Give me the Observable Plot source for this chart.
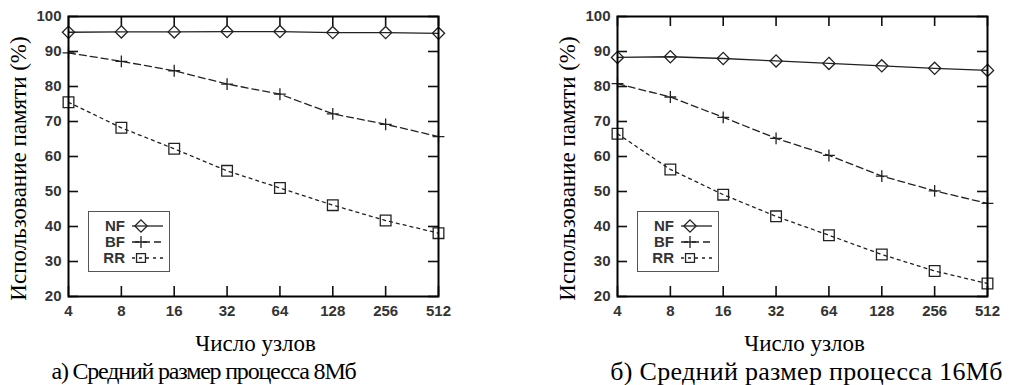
<!DOCTYPE html>
<html><head><meta charset="utf-8">
<script src="https://cdn.jsdelivr.net/npm/d3@7"></script>
<script src="https://cdn.jsdelivr.net/npm/@observablehq/plot@0.6"></script>
<style>
body{margin:0;background:#fff;}
#wrap{position:relative;width:1010px;height:385px;overflow:hidden;background:#fff;}
.panel{position:absolute;top:0;}
.panel svg{overflow:visible;}
.legend{position:absolute;}
</style></head><body><div id="wrap"></div>
<script>
// ---- data ----
const nodes = [4, 8, 16, 32, 64, 128, 256, 512];
const seriesNames = ["NF", "BF", "RR"];
const nf8  = [95.5, 95.6, 95.6, 95.7, 95.7, 95.4, 95.4, 95.2];
const bf8  = [89.6, 87.2, 84.5, 80.7, 77.8, 72.2, 69.2, 65.7];
const rr8  = [75.5, 68.2, 62.2, 55.9, 51.0, 46.1, 41.7, 38.1];
const nf16 = [88.3, 88.5, 88.0, 87.3, 86.6, 85.9, 85.2, 84.6];
const bf16 = [80.8, 77.0, 71.2, 65.2, 60.3, 54.4, 50.2, 46.6];
const rr16 = [66.5, 56.3, 49.1, 42.9, 37.5, 32.0, 27.3, 23.7];
const yTicks = [20, 30, 40, 50, 60, 70, 80, 90, 100];
const xTicks = [4, 8, 16, 32, 64, 128, 256, 512];
const captions = ["а) Средний размер процесса 8Мб", "б) Средний размер процесса 16Мб"];
const xTitle = "Число узлов";
const yTitle = "Использование памяти (%)";

// ---- styles ----
const lineColor = "#222";
const seriesStyle = {
  NF: {dash: null, symbol: "diamond2", d3sym: d3.symbolDiamond2, r: 5.5},
  BF: {dash: "7,4", symbol: "plus", d3sym: d3.symbolPlus, r: 3.9},
  RR: {dash: "3,4", symbol: "square2", d3sym: d3.symbolSquare2, r: 6.8}
};
const sansFont = "'Liberation Sans', Arial, sans-serif";
const serifFont = "'Liberation Serif', 'Times New Roman', serif";

function makePanel(vals, caption, capStyle, left, mL, mR) {
  const W = 505, H = 385, mT = 16, mB = 89;
  const fw = W - mL - mR, fh = H - mT - mB;
  const data = [];
  seriesNames.forEach((s, i) => nodes.forEach((n, j) => data.push({series: s, n, v: vals[i][j]})));
  const marks = [];
  const tk = {stroke: "#111", strokeWidth: 1.6};
  marks.push(Plot.tickY(yTicks, {y: d => d, insetRight: fw - 10, ...tk}));
  marks.push(Plot.tickY(yTicks, {y: d => d, insetLeft: fw - 10, ...tk}));
  marks.push(Plot.tickX(xTicks, {x: d => d, insetTop: fh - 10, ...tk}));
  marks.push(Plot.tickX(xTicks, {x: d => d, insetBottom: fh - 10, ...tk}));
  const axText = {fontFamily: sansFont, fontSize: 15, fontWeight: "bold", fill: "#333"};
  marks.push(Plot.axisY({ticks: yTicks, tickSize: 0, tickPadding: 7, tickFormat: d => d, label: null, ...axText}));
  marks.push(Plot.axisX({ticks: xTicks, tickSize: 0, tickPadding: 9, tickFormat: d => d, label: null, ...axText}));
  seriesNames.forEach(s => {
    const st = seriesStyle[s];
    const sd = data.filter(d => d.series === s);
    marks.push(Plot.line(sd, {
      x: "n", y: "v", stroke: lineColor, strokeWidth: 1.3,
      strokeDasharray: st.dash || undefined
    }));
    marks.push(Plot.dot(sd, {x: "n", y: "v", symbol: st.symbol, r: st.r,
      stroke: lineColor, fill: "none", strokeWidth: 1.3}));
  });
  marks.push(Plot.frame({stroke: "#000", strokeWidth: 2}));
  marks.push(Plot.text([yTitle], {text: d => d, frameAnchor: "left", textAnchor: "middle", lineAnchor: "middle",
    rotate: -90, dx: -50, dy: 12, fontFamily: serifFont, fontSize: 23, fill: "#000"}));
  marks.push(Plot.text([xTitle], {text: d => d, frameAnchor: "bottom", lineAnchor: "middle", dy: 47, dx: 2,
    fontFamily: serifFont, fontSize: 23, fill: "#000"}));
  marks.push(Plot.text([caption], {text: d => d, frameAnchor: "bottom", lineAnchor: "middle", dy: 75, dx: capStyle.dx,
    fontFamily: serifFont, fontSize: capStyle.size, fill: "#000"}));

  const chart = Plot.plot({
    width: W, height: H,
    marginLeft: mL, marginRight: mR, marginTop: mT, marginBottom: mB,
    x: {type: "log", base: 2, domain: [4, 512], axis: null},
    y: {domain: [20, 100], axis: null},
    style: {background: "#fff"},
    marks
  });
  d3.select(chart).selectAll("text").filter(function() {
    return this.textContent === caption || this.textContent === xTitle || this.textContent === yTitle;
  }).style("font-family", serifFont);
  d3.select(chart).selectAll("text").filter(function() { return this.textContent === caption; })
    .attr("letter-spacing", capStyle.spacing);
  const div = document.createElement("div");
  div.className = "panel";
  div.style.left = left + "px";
  div.appendChild(chart);
  document.getElementById("wrap").appendChild(div);

  // legend box (overlay)
  const lg = document.createElement("div");
  lg.className = "legend";
  const lx = left + mL + 20, ly = mT + 195, lw = 81, lh = 60;
  lg.style.left = lx + "px"; lg.style.top = ly + "px";
  const svg = d3.create("svg").attr("width", lw + 2).attr("height", lh + 2);
  svg.append("rect").attr("x", 0.5).attr("y", 0.5).attr("width", lw).attr("height", lh)
    .attr("fill", "#fff").attr("stroke", "#555").attr("stroke-width", 1);
  seriesNames.forEach((s, i) => {
    const st = seriesStyle[s];
    const cy = 15 + i * 16;
    svg.append("text").attr("x", 37).attr("y", cy).attr("dy", "0.35em")
      .attr("text-anchor", "end").style("font-family", sansFont).attr("font-size", 15)
      .attr("font-weight", "bold").attr("fill", "#333").text(s);
    svg.append("line").attr("x1", 44).attr("x2", 75).attr("y1", cy).attr("y2", cy)
      .attr("stroke", lineColor).attr("stroke-width", 1.3)
      .attr("stroke-dasharray", st.dash || null);
    svg.append("path").attr("transform", `translate(53,${cy})`)
      .attr("d", d3.symbol(st.d3sym, Math.PI * st.r * st.r * (s === "RR" ? 0.7 : 1))())
      .attr("fill", "none").attr("stroke", lineColor).attr("stroke-width", 1.3);
  });
  lg.appendChild(svg.node());
  document.getElementById("wrap").appendChild(lg);
}

makePanel([nf8, bf8, rr8], captions[0], {size: 24, spacing: -1.2, dx: -50}, 0, 68, 67);
makePanel([nf16, bf16, rr16], captions[1], {size: 26, spacing: 0.3, dx: 4}, 505, 112, 23);
</script>
</body></html>
